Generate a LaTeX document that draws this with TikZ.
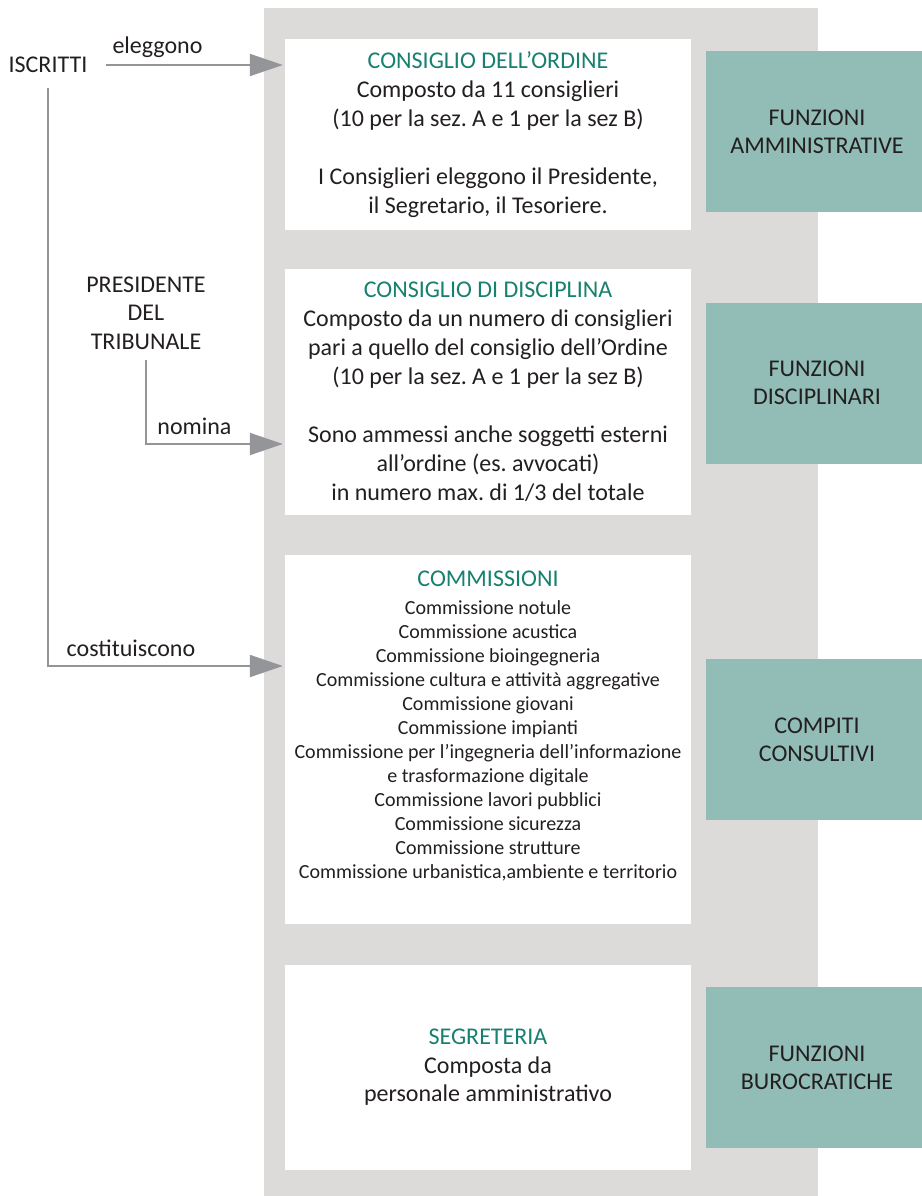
\documentclass[tikz,border=0pt]{standalone}
\usepackage{fontspec}
\setmainfont{Carlito}
\usetikzlibrary{arrows.meta}
\frenchspacing
\definecolor{panelgray}{HTML}{DCDBDA}
\definecolor{tealfill}{HTML}{91BDB6}
\definecolor{titlegreen}{HTML}{17806F}
\definecolor{ink}{HTML}{231F20}
\definecolor{arrowgray}{HTML}{939598}
\tikzset{
  whitebox/.style={fill=white, minimum width=406pt, inner sep=0pt, align=center,
    text=ink, font=\fontsize{24}{29}\selectfont},
  funcbox/.style={fill=tealfill, minimum width=222pt, minimum height=161pt,
    inner sep=0pt, align=center, text=ink, font=\fontsize{24}{28}\selectfont},
  lbl/.style={inner sep=0pt, align=center, text=ink, font=\fontsize{24}{28.5}\selectfont},
  arr/.style={draw=arrowgray, line width=2pt, shorten >=2pt,
    -{Triangle[length=33pt,width=22pt]}},
  ttl/.style={text=titlegreen}
}
\begin{document}
\begin{tikzpicture}[x=1pt,y=-1pt]
\useasboundingbox (0,0) rectangle (921,1196);
% background panel
\node[fill=panelgray, minimum width=554pt, minimum height=1188pt, inner sep=0pt] (panel) at (541,602) {};

% white boxes
\node[whitebox, minimum height=191pt] (box1) at (488,134.5)
  {\textcolor{titlegreen}{CONSIGLIO DELL’ORDINE}\\
   Composto da 11 consiglieri\\
   (10 per la sez. A e 1 per la sez B)\\[29pt]
   I Consiglieri eleggono il Presidente,\\
   il Segretario, il Tesoriere.};

\node[whitebox, minimum height=246pt] (box2) at (488,392)
  {\textcolor{titlegreen}{CONSIGLIO DI DISCIPLINA}\\
   Composto da un numero di consiglieri\\
   pari a quello del consiglio dell’Ordine\\
   (10 per la sez. A e 1 per la sez B)\\[29pt]
   Sono ammessi anche soggetti esterni\\
   all’ordine (es. avvocati)\\
   in numero max. di 1/3 del totale};

\node[whitebox, minimum height=369pt] (box3) at (488,739.5) {};
\node[inner sep=0pt, align=center, text=ink, font=\fontsize{20}{24}\selectfont] (box3txt) at (488,726)
  {{\fontsize{24}{28}\selectfont\textcolor{titlegreen}{COMMISSIONI}}\\[4pt]
   Commissione notule\\
   Commissione acustica\\
   Commissione bioingegneria\\
   Commissione cultura e attività aggregative\\
   Commissione giovani\\
   Commissione impianti\\
   Commissione per l’ingegneria dell’informazione\\
   e trasformazione digitale\\
   Commissione lavori pubblici\\
   Commissione sicurezza\\
   Commissione strutture\\
   Commissione urbanistica,ambiente e territorio};

\node[whitebox, minimum height=205pt, font=\fontsize{24}{28.5}\selectfont] (box4) at (488,1067.5)
  {\textcolor{titlegreen}{SEGRETERIA}\\
   Composta da\\
   personale amministrativo};

% function boxes
\node[funcbox] (f1) at (817,131.5) {FUNZIONI\\AMMINISTRATIVE};
\node[funcbox] (f2) at (817,383) {FUNZIONI\\DISCIPLINARI};
\node[funcbox] (f3) at (817,739.5) {COMPITI\\CONSULTIVI};
\node[funcbox] (f4) at (817,1067.5) {FUNZIONI\\BUROCRATICHE};

% labels
\node[lbl] (iscritti) at (48,65) {ISCRITTI};
\node[lbl] (eleggono) at (157.5,47) {eleggono};
\node[lbl] (presidente) at (146,313) {PRESIDENTE\\DEL\\TRIBUNALE};
\node[lbl] (nomina) at (194.5,426) {nomina};
\node[lbl] (costituiscono) at (131,648) {costituiscono};

% connectors
\draw[arr] ([xshift=18pt]iscritti.east) -- (box1.west |- iscritti.east);
\draw[arr] (iscritti.center |- 0,88) |- (box3.west |- 0,666);
\draw[arr] (presidente.center |- 0,360) |- (box2.west |- 0,444);
\end{tikzpicture}
\end{document}
